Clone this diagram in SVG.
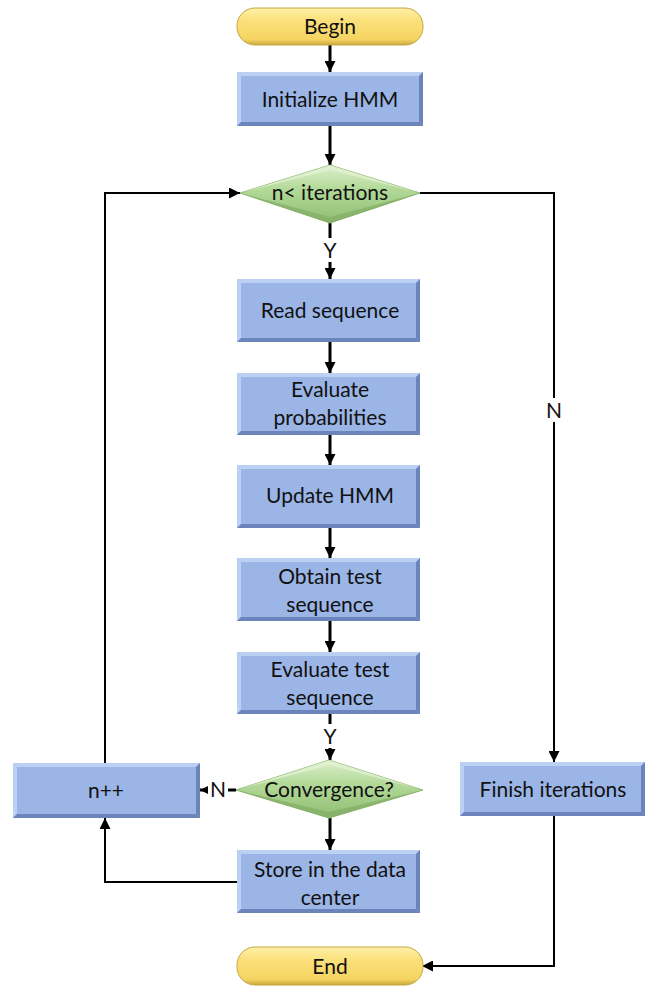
<svg xmlns="http://www.w3.org/2000/svg" width="649" height="986" viewBox="0 0 649 986">
  <defs>
    <style>
      .lbl { font-family: Lato, "Open Sans", "Liberation Sans", sans-serif; font-size: 21px; fill: #111; text-anchor: middle; }
      .edge { font-family: Lato, "Open Sans", "Liberation Sans", sans-serif; font-size: 21px; fill: #111; text-anchor: middle; }
      .box { fill: #9BB5E6; }
      .hi { fill: #BCD0F3; }
      .lo { fill: #6B85BC; }
      .wire { fill: none; stroke: #000; stroke-width: 2; }
      .wire3 { fill: none; stroke: #000; stroke-width: 3; }
    </style>
    <marker id="arr" viewBox="0 0 10 10" refX="10" refY="5" markerWidth="11" markerHeight="11" markerUnits="userSpaceOnUse" orient="auto">
      <path d="M0,0 L10,5 L0,10 z" fill="#000"/>
    </marker>
    <linearGradient id="pill" x1="0" y1="0" x2="0" y2="1">
      <stop offset="0" stop-color="#FFF0A8"/>
      <stop offset="0.35" stop-color="#FBE07A"/>
      <stop offset="0.85" stop-color="#F6D462"/>
      <stop offset="1" stop-color="#C9A93E"/>
    </linearGradient>
    <linearGradient id="gem" x1="0" y1="0" x2="0" y2="1">
      <stop offset="0" stop-color="#DDEFCB"/>
      <stop offset="0.4" stop-color="#B4DA9A"/>
      <stop offset="1" stop-color="#8FBE72"/>
    </linearGradient>
  </defs>

  <!-- connectors -->
  <g id="connectors">
    <line class="wire3" x1="330" y1="45" x2="330" y2="72" marker-end="url(#arr)"/>
    <line class="wire3" x1="330" y1="126" x2="330" y2="165" marker-end="url(#arr)"/>
    <line class="wire3" x1="330" y1="223" x2="330" y2="279" marker-end="url(#arr)"/>
    <line class="wire3" x1="330" y1="342" x2="330" y2="373" marker-end="url(#arr)"/>
    <line class="wire3" x1="330" y1="435" x2="330" y2="465" marker-end="url(#arr)"/>
    <line class="wire3" x1="330" y1="528" x2="330" y2="558" marker-end="url(#arr)"/>
    <line class="wire3" x1="330" y1="621" x2="330" y2="652" marker-end="url(#arr)"/>
    <line class="wire3" x1="330" y1="714" x2="330" y2="760" marker-end="url(#arr)"/>
    <line class="wire3" x1="330" y1="818" x2="330" y2="850" marker-end="url(#arr)"/>
    <line class="wire3" x1="236" y1="790" x2="200" y2="790" marker-end="url(#arr)"/>
    <polyline class="wire" points="237,882 105,882 105,818" marker-end="url(#arr)"/>
    <polyline class="wire" points="105,763 105,193 240,193" marker-end="url(#arr)"/>
    <polyline class="wire" points="420,193 554,193 554,762" marker-end="url(#arr)"/>
    <polyline class="wire" points="554,815 554,966 422,966" marker-end="url(#arr)"/>
    <!-- edge labels on white -->
    <rect x="320" y="238" width="20" height="24" fill="#fff"/>
    <text class="edge" x="330" y="258">Y</text>
    <rect x="320" y="724" width="20" height="24" fill="#fff"/>
    <text class="edge" x="330" y="744">Y</text>
    <rect x="208" y="778" width="20" height="24" fill="#fff"/>
    <text class="edge" x="218" y="797">N</text>
    <rect x="543" y="398" width="22" height="24" fill="#fff"/>
    <text class="edge" x="554" y="418">N</text>
  </g>

  <!-- terminators -->
  <g id="begin">
    <rect x="237" y="8" width="186" height="37" rx="18" fill="url(#pill)" stroke="#C4A640" stroke-width="1"/>
    <text class="lbl" x="330" y="34">Begin</text>
  </g>
  <g id="end">
    <rect x="237" y="947" width="186" height="38" rx="18" fill="url(#pill)" stroke="#C4A640" stroke-width="1"/>
    <text class="lbl" x="330" y="974">End</text>
  </g>

  <!-- process boxes -->
  <g id="init">
    <rect class="box" x="237" y="72" width="186" height="54"/>
    <polygon class="hi" points="237,72 423,72 419,76 241,76"/>
    <polygon class="hi" points="237,72 241,76 241,122 237,126"/>
    <polygon class="lo" points="237,126 423,126 419,122 241,122"/>
    <polygon class="lo" points="423,72 423,126 419,122 419,76"/>
    <text class="lbl" x="330" y="107">Initialize HMM</text>
  </g>
  <g id="read">
    <rect class="box" x="237" y="279" width="183" height="63"/>
    <polygon class="hi" points="237,279 420,279 416,283 241,283"/>
    <polygon class="hi" points="237,279 241,283 241,338 237,342"/>
    <polygon class="lo" points="237,342 420,342 416,338 241,338"/>
    <polygon class="lo" points="420,279 420,342 416,338 416,283"/>
    <text class="lbl" x="330" y="318">Read sequence</text>
  </g>
  <g id="evalprob">
    <rect class="box" x="237" y="373" width="183" height="62"/>
    <polygon class="hi" points="237,373 420,373 416,377 241,377"/>
    <polygon class="hi" points="237,373 241,377 241,431 237,435"/>
    <polygon class="lo" points="237,435 420,435 416,431 241,431"/>
    <polygon class="lo" points="420,373 420,435 416,431 416,377"/>
    <text class="lbl" x="330" y="397">Evaluate</text>
    <text class="lbl" x="330" y="425">probabilities</text>
  </g>
  <g id="update">
    <rect class="box" x="237" y="465" width="183" height="63"/>
    <polygon class="hi" points="237,465 420,465 416,469 241,469"/>
    <polygon class="hi" points="237,465 241,469 241,524 237,528"/>
    <polygon class="lo" points="237,528 420,528 416,524 241,524"/>
    <polygon class="lo" points="420,465 420,528 416,524 416,469"/>
    <text class="lbl" x="330" y="503">Update HMM</text>
  </g>
  <g id="obtain">
    <rect class="box" x="237" y="558" width="183" height="63"/>
    <polygon class="hi" points="237,558 420,558 416,562 241,562"/>
    <polygon class="hi" points="237,558 241,562 241,617 237,621"/>
    <polygon class="lo" points="237,621 420,621 416,617 241,617"/>
    <polygon class="lo" points="420,558 420,621 416,617 416,562"/>
    <text class="lbl" x="330" y="584">Obtain test</text>
    <text class="lbl" x="330" y="612">sequence</text>
  </g>
  <g id="evaltest">
    <rect class="box" x="237" y="652" width="183" height="62"/>
    <polygon class="hi" points="237,652 420,652 416,656 241,656"/>
    <polygon class="hi" points="237,652 241,656 241,710 237,714"/>
    <polygon class="lo" points="237,714 420,714 416,710 241,710"/>
    <polygon class="lo" points="420,652 420,714 416,710 416,656"/>
    <text class="lbl" x="330" y="677">Evaluate test</text>
    <text class="lbl" x="330" y="705">sequence</text>
  </g>
  <g id="store">
    <rect class="box" x="237" y="850" width="183" height="63"/>
    <polygon class="hi" points="237,850 420,850 416,854 241,854"/>
    <polygon class="hi" points="237,850 241,854 241,909 237,913"/>
    <polygon class="lo" points="237,913 420,913 416,909 241,909"/>
    <polygon class="lo" points="420,850 420,913 416,909 416,854"/>
    <text class="lbl" x="330" y="877">Store in the data</text>
    <text class="lbl" x="330" y="905">center</text>
  </g>
  <g id="incr">
    <rect class="box" x="13" y="763" width="187" height="55"/>
    <polygon class="hi" points="13,763 200,763 196,767 17,767"/>
    <polygon class="hi" points="13,763 17,767 17,814 13,818"/>
    <polygon class="lo" points="13,818 200,818 196,814 17,814"/>
    <polygon class="lo" points="200,763 200,818 196,814 196,767"/>
    <text class="lbl" x="106" y="798">n++</text>
  </g>
  <g id="finish">
    <rect class="box" x="460" y="762" width="185" height="54"/>
    <polygon class="hi" points="460,762 645,762 641,766 464,766"/>
    <polygon class="hi" points="460,762 464,766 464,812 460,816"/>
    <polygon class="lo" points="460,816 645,816 641,812 464,812"/>
    <polygon class="lo" points="645,762 645,816 641,812 641,766"/>
    <text class="lbl" x="553" y="797">Finish iterations</text>
  </g>

  <!-- decisions -->
  <g id="loopcheck">
    <polygon points="240,193 330,165 420,193 330,223" fill="url(#gem)" stroke="#8DB870" stroke-width="1"/>
    <polygon points="240,193 330,165 420,193 330,170" fill="#E4F2D6" opacity="0.7"/>
    <polygon points="240,193 330,223 420,193 330,217" fill="#7FA862" opacity="0.6"/>
    <text class="lbl" x="330" y="200">n&lt; iterations</text>
  </g>
  <g id="converge">
    <polygon points="236,790 329,760 423,790 329,818" fill="url(#gem)" stroke="#8DB870" stroke-width="1"/>
    <polygon points="236,790 329,760 423,790 329,765" fill="#E4F2D6" opacity="0.7"/>
    <polygon points="236,790 329,818 423,790 329,812" fill="#7FA862" opacity="0.6"/>
    <text class="lbl" x="329" y="797">Convergence?</text>
  </g>
</svg>
